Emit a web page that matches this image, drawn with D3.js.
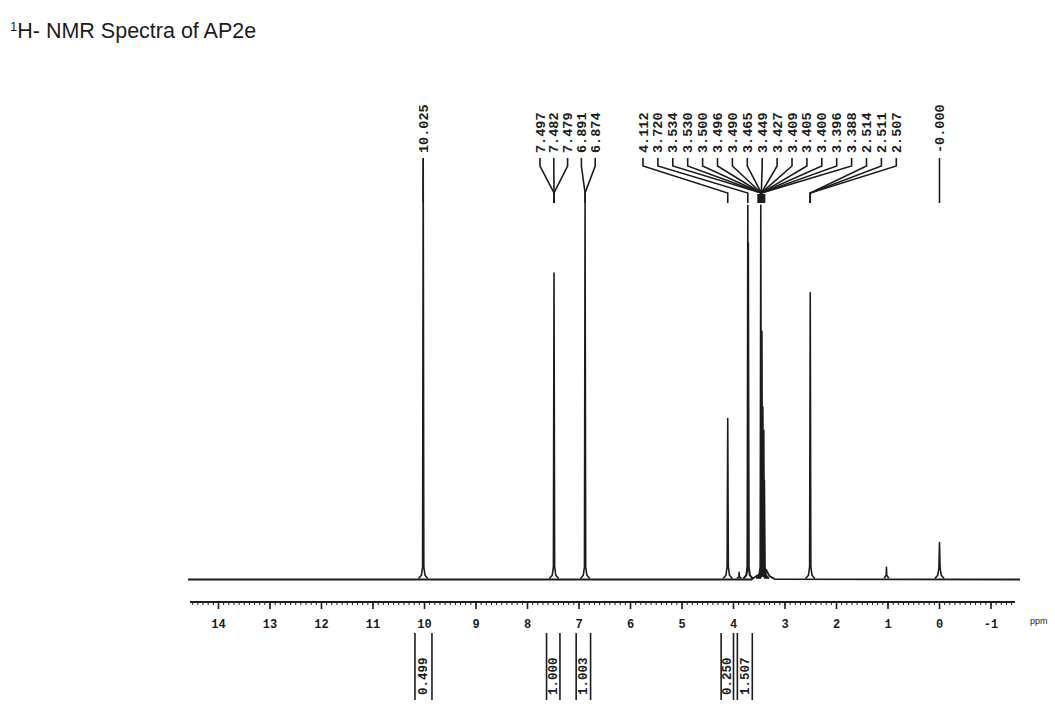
<!DOCTYPE html>
<html><head><meta charset="utf-8">
<script src="https://cdn.jsdelivr.net/npm/d3@7"></script>
<style>body{margin:0;background:#fff}svg{display:block}</style>
</head><body><svg id="c" width="1055" height="711"></svg>
<script>
// ---- data ----
const peakPpm    = [10.025, 7.485, 6.882, 4.112, 3.89, 3.722, 3.712, 3.470, 3.448, 3.430, 3.412, 3.400, 2.510, 1.030, 0.000];
const peakHeight = [100,    72.9,  89.5,  38.3,  1.7,  89,    80,    89,    59,    41,    35.5,  23.6,  68.2,  2.9,   8.8];
const baselinePpm = [14.592, 3.65, 3.56, 3.36, 3.30, 3.20, -1.563];
const baselineInt = [0,      0,    0.8,  2.2,  0.8,  0.1,  0];
const labelText   = ["10.025","7.497","7.482","7.479","6.891","6.874","4.112","3.720","3.534","3.530","3.500","3.496","3.490","3.465","3.449","3.427","3.409","3.405","3.400","3.396","3.388","2.514","2.511","2.507","-0.000"];
const labelTarget = [10.025, 7.485,7.485,7.485, 6.882,6.882, 4.112, 3.722, 3.46,3.46,3.46,3.46,3.46,3.46,3.46,3.46,3.46,3.46,3.46,3.46,3.46, 2.510,2.510,2.510, 0.000];
const axisTicks = [14,13,12,11,10,9,8,7,6,5,4,3,2,1,0,-1];
const integralValue  = ["0.499","1.000","1.003","0.250","1.507"];
const integralCenter = [10.02, 7.50, 6.915, 4.12, 3.78];
const integralWidth  = [0.33, 0.26, 0.28, 0.24, 0.29];
const titleMain = "H- NMR Spectra of AP2e";
const titleSup = "1";

// ---- drawing ----
const svg = d3.select("#c");
const ink = "#1c1c1c";
const x = d3.scaleLinear().domain([14.592, -1.563]).range([188, 1020]);
const y = d3.scaleLinear().domain([0, 100]).range([579.5, 159]);

// title
const t = svg.append("text").attr("x", 10).attr("y", 38)
  .attr("font-family", "Liberation Sans, Arial, sans-serif").attr("font-size", 21.5).attr("fill", ink);
t.append("tspan").attr("font-size", 13).attr("dy", -7).text(titleSup);
t.append("tspan").attr("dy", 7).text(titleMain);

// baseline
const line = d3.line().x(d => x(d[0])).y(d => y(d[1]));
svg.append("path").attr("d", line(baselinePpm.map((p, i) => [p, baselineInt[i]])))
  .attr("fill", "none").attr("stroke", ink).attr("stroke-width", 1.8);

// peaks (narrow lines with a small foot)
const foot = [[0.09, 0.25], [0.035, 1.0], [0.012, 3.0], [0, null], [-0.012, 3.0], [-0.035, 1.0], [-0.09, 0.25]];
peakPpm.forEach((p, i) => {
  const h = peakHeight[i];
  const pts = foot.map(f => [p + f[0] * (h < 5 ? 0.5 : 1), f[1] === null ? h : Math.min(f[1], h * 0.3)]);
  svg.append("path").attr("d", line(pts)).attr("fill", "none")
    .attr("stroke", ink).attr("stroke-width", 1.6).attr("stroke-linejoin", "round");
});

// peak labels & leader lines
const monoFont = "Liberation Mono, DejaVu Sans Mono, monospace";
function labelX(i) {
  if (i === 0 || i === labelText.length - 1) return x(labelTarget[i]);
  if (i <= 5) return 540 + (i - 1) * 13.8;
  return 643 + (i - 6) * 14.9;
}
labelText.forEach((s, i) => {
  const lx = labelX(i), px = x(labelTarget[i]);
  svg.append("text").attr("transform", `translate(${lx + 4.5},153) rotate(-90)`)
    .attr("font-family", monoFont).attr("font-weight", "bold").attr("font-size", 13.5)
    .attr("fill", ink).text(s);
  let d;
  if (i === 0 || i === labelText.length - 1) d = `M${lx},158V203`;
  else d = `M${lx},158V166L${px},193V203`;
  svg.append("path").attr("d", d).attr("fill", "none").attr("stroke", ink).attr("stroke-width", 1.6);
});
// converging knot of the large multiplet
const knot = x(3.46);
svg.append("rect").attr("x", knot - 4).attr("y", 194).attr("width", 8).attr("height", 9).attr("fill", ink);

// axis
const axisY = 602;
svg.append("line").attr("x1", 190).attr("x2", 1015).attr("y1", axisY).attr("y2", axisY)
  .attr("stroke", ink).attr("stroke-width", 2.2);
const minor = d3.range(-15, 146).map(v => v / 10).filter(v => x(v) >= 190 && x(v) <= 1015);
svg.selectAll(".mn").data(minor).enter().append("line")
  .attr("x1", d => x(d)).attr("x2", d => x(d)).attr("y1", axisY).attr("y2", axisY + 3)
  .attr("stroke", ink).attr("stroke-width", 1);
svg.selectAll(".mj").data(axisTicks).enter().append("line")
  .attr("x1", d => x(d)).attr("x2", d => x(d)).attr("y1", axisY).attr("y2", axisY + 7)
  .attr("stroke", ink).attr("stroke-width", 1.6);
svg.selectAll(".tl").data(axisTicks).enter().append("text")
  .attr("x", d => x(d)).attr("y", 628).attr("text-anchor", "middle")
  .attr("font-family", monoFont).attr("font-weight", "bold").attr("font-size", 12)
  .attr("fill", ink).text(d => d < 0 ? "-" + Math.abs(d) : d);
svg.append("text").attr("x", 1030).attr("y", 624).attr("font-family", "Liberation Sans, sans-serif")
  .attr("font-size", 9).attr("fill", ink).text("ppm");

// integrals
integralValue.forEach((v, i) => {
  const c = x(integralCenter[i]);
  const half = (x(integralCenter[i] - integralWidth[i] / 2) - x(integralCenter[i] + integralWidth[i] / 2)) / 2;
  [c - half, c + half].forEach(xx => {
    svg.append("line").attr("x1", xx).attr("x2", xx).attr("y1", 633).attr("y2", 700)
      .attr("stroke", ink).attr("stroke-width", 1.6);
  });
  svg.append("text").attr("transform", `translate(${c + 4},695) rotate(-90)`)
    .attr("font-family", monoFont).attr("font-weight", "bold").attr("font-size", 12.5)
    .attr("fill", ink).text(v);
});
</script></body></html>
